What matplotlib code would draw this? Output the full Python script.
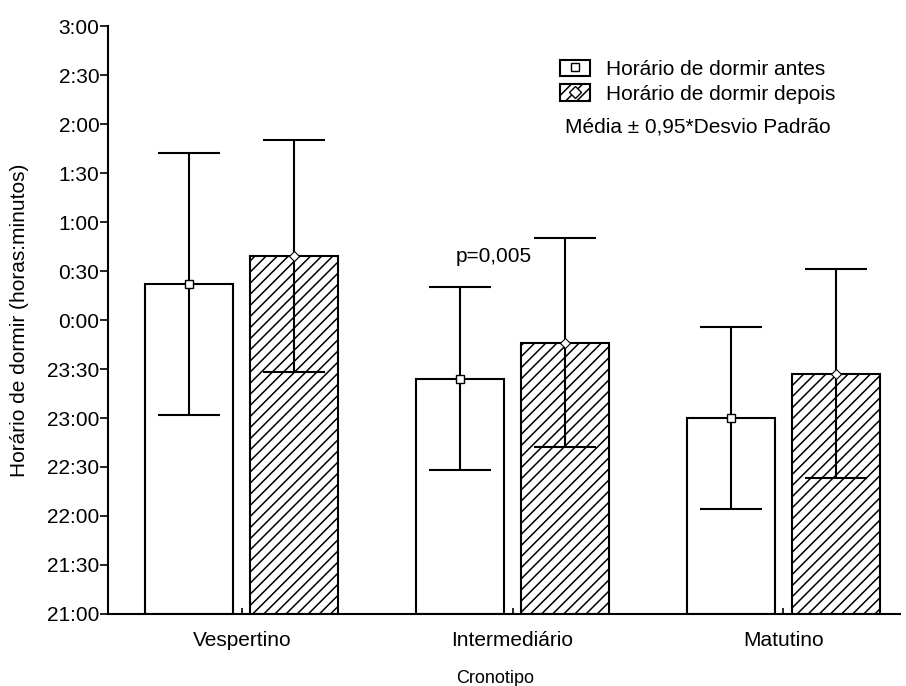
import matplotlib.pyplot as plt
import numpy as np
from matplotlib.patches import Patch
from matplotlib.lines import Line2D

plt.rcParams['font.family'] = ['Liberation Sans', 'DejaVu Sans']
plt.rcParams['hatch.linewidth'] = 1.1

cronotipos = ['Vespertino', 'Intermediário', 'Matutino']
# média e 0,95*desvio padrão (minutos)
media_antes = ['0:22', '23:24', '23:00']
media_depois = ['0:39', '23:46', '23:27']
dp_antes = [80, 56, 56]
dp_depois = [71, 64, 64]

y_ticks = ['21:00', '21:30', '22:00', '22:30', '23:00', '23:30', '0:00',
           '0:30', '1:00', '1:30', '2:00', '2:30', '3:00']


def horas_desde_21(hhmm):
    h, m = map(int, hhmm.split(':'))
    if h < 12:
        h += 24
    return (h - 21) + m / 60


antes = np.array([horas_desde_21(t) for t in media_antes])
depois = np.array([horas_desde_21(t) for t in media_depois])
err_antes = np.array(dp_antes) / 60
err_depois = np.array(dp_depois) / 60

fig = plt.figure(figsize=(9.06, 6.86), dpi=100)
ax = fig.add_axes([0.119, 0.105, 0.874, 0.857])

x = np.arange(len(cronotipos))
w = 0.325
off = 0.194

ax.bar(x - off, antes, w, color='white', edgecolor='black', linewidth=1.5, zorder=2)
ax.bar(x + off, depois, w, color='white', edgecolor='black', linewidth=1.5,
       hatch='///', zorder=2)

ax.errorbar(x - off, antes, yerr=err_antes, fmt='none', ecolor='black',
            elinewidth=1.5, capsize=22, capthick=1.5, zorder=3)
ax.errorbar(x + off, depois, yerr=err_depois, fmt='none', ecolor='black',
            elinewidth=1.5, capsize=22, capthick=1.5, zorder=3)
ax.plot(x - off, antes, 's', ms=6, mfc='white', mec='black', mew=1, zorder=4, ls='none')
ax.plot(x + off, depois, 'D', ms=5, mfc='white', mec='black', mew=0.8, zorder=4, ls='none')

ax.set_ylim(0, 6)
ax.set_xlim(-0.495, 2.43)
ax.set_yticks(np.arange(0, 6.01, 0.5))
ax.set_yticklabels(y_ticks, fontsize=15)
ax.set_xticks(x)
ax.set_xticklabels(cronotipos, fontsize=15)
ax.tick_params(axis='y', direction='out', length=6, width=1.2, pad=0)
ax.tick_params(axis='x', direction='in', length=4, width=1.2, pad=12)

for s in ['top', 'right']:
    ax.spines[s].set_visible(False)
for s in ['left', 'bottom']:
    ax.spines[s].set_linewidth(1.5)

ax.set_ylabel('Horário de dormir (horas:minutos)', fontsize=15)
ax.yaxis.set_label_coords(-0.100, 0.5)
ax.set_xlabel('Cronotipo', fontsize=13)
ax.xaxis.set_label_coords(0.489, -0.095)

ax.text(0.93, 3.65, 'p=0,005', fontsize=15, ha='center', va='center')

h_antes = (Patch(facecolor='white', edgecolor='black', linewidth=1.5),
           Line2D([], [], marker='s', ms=6, mfc='white', mec='black', ls='none'))
h_depois = (Patch(facecolor='white', edgecolor='black', linewidth=1.5, hatch='///'),
            Line2D([], [], marker='D', ms=6, mfc='white', mec='black', ls='none'))
leg = ax.legend([h_antes, h_depois],
                ['Horário de dormir antes', 'Horário de dormir depois'],
                loc='upper left', bbox_to_anchor=(0.571, 0.943), frameon=False,
                borderpad=0, borderaxespad=0,
                fontsize=15, handlelength=1.45, handleheight=0.87,
                handletextpad=0.75, labelspacing=0.25)
ax.text(0.745, 0.828, 'Média ± 0,95*Desvio Padrão', transform=ax.transAxes,
        fontsize=15, ha='center', va='center')

fig.savefig('out.png', dpi=100)
